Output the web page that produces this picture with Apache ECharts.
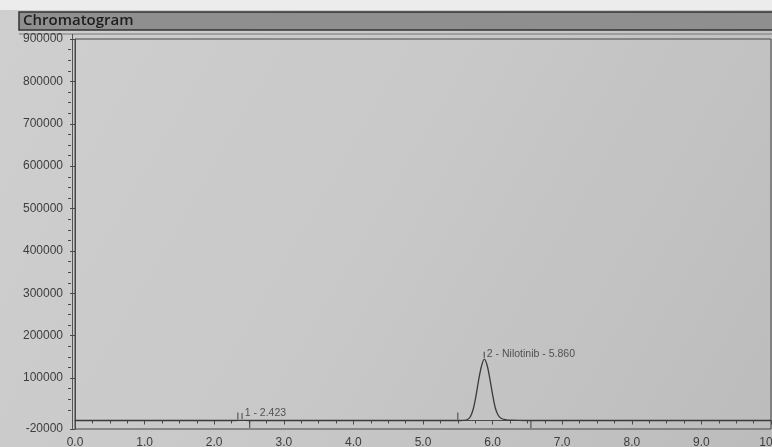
<!DOCTYPE html>
<html>
<head>
<meta charset="utf-8">
<script src="https://cdn.jsdelivr.net/npm/echarts@6/dist/echarts.min.js"></script>
<style>
  html, body { margin: 0; padding: 0; background: #c7c7c7; }
  #chart { width: 772px; height: 447px; }
</style>
</head>
<body>
<div id="chart"></div>
<script>
// retention time (min) and detector signal
const retTimes = [0, 1, 2, 2.3, 2.4, 2.5, 3, 4, 5, 5.5, 5.58, 5.64, 5.68, 5.72, 5.76, 5.8, 5.84, 5.88, 5.92, 5.96, 6.0, 6.04, 6.08, 6.12, 6.18, 6.27, 6.5, 7, 8, 9, 10]
const signal = [0, 0, 0, 0, 500, 0, 0, 0, 0, 0, 500, 2500, 9000, 26000, 57000, 96000, 128000, 145000, 131000, 99000, 61000, 29000, 12500, 5500, 2200, 700, 0, 0, 0, 0, 0]

// peak event marks: start (above baseline), end (below baseline), apex label ticks
const startTimes = [2.34, 5.5]
const endTimes = [2.51, 6.55]
const apexTimes = [2.4, 5.88]
const apexTickLevel = [10500, 155000]
const peakNames = ['1 - 2.423', '2 - Nilotinib - 5.860']

const yLabelValues = [-20000, 100000, 200000, 300000, 400000, 500000, 600000, 700000, 800000, 900000]
const yMinorValues = []
for (let v = 0; v < 900000; v += 25000) {
  if (v % 100000 !== 0) yMinorValues.push(v)
}

const chart = echarts.init(document.getElementById('chart'))
const font = "'Liberation Sans', Arial, sans-serif"
const ink = '#3a3a3a'

const option = {
  backgroundColor: {
    type: 'linear', x: 0, y: 0, x2: 1, y2: 1,
    colorStops: [
      { offset: 0, color: '#cfcfcf' },
      { offset: 0.5, color: '#c8c8c8' },
      { offset: 1, color: '#bcbcbc' }
    ]
  },
  animation: false,
  grid: {
    left: 75, right: 1, top: 39, bottom: 18,
    outerBoundsMode: 'none',
    containLabel: false,
    show: true, borderColor: '#474747', borderWidth: 1
  },
  xAxis: {
    type: 'value', min: 0, max: 10, interval: 1, offset: 3,
    axisLine: { show: true, lineStyle: { color: '#4a4a4a', width: 1 } },
    axisTick: { show: true, length: 4, lineStyle: { color: '#4a4a4a' } },
    minorTick: { show: true, splitNumber: 4, length: 3, lineStyle: { color: '#4a4a4a' } },
    splitLine: { show: false },
    axisLabel: {
      margin: 5, color: '#3d3d3d', fontSize: 12, fontFamily: font,
      formatter: v => v.toFixed(1)
    }
  },
  yAxis: [{
    type: 'value', min: -20000, max: 900000, offset: 4,
    axisLine: { show: true, lineStyle: { color: '#4a4a4a', width: 1 } },
    axisTick: { show: true, length: 5, customValues: yLabelValues, lineStyle: { color: '#4a4a4a' } },
    splitLine: { show: false },
    axisLabel: {
      customValues: yLabelValues, margin: 8, color: '#3d3d3d', fontSize: 12, fontFamily: font,
      formatter: v => String(v)
    }
  }, {
    type: 'value', min: -20000, max: 900000, offset: 4, position: 'left',
    axisLine: { show: false },
    axisTick: { show: true, length: 3, customValues: yMinorValues, lineStyle: { color: '#4a4a4a' } },
    splitLine: { show: false },
    axisLabel: { show: false }
  }],
  graphic: [
    { type: 'rect', shape: { x: 0, y: 0, width: 772, height: 10 }, style: { fill: '#ececec' } },
    {
      type: 'rect', shape: { x: 19, y: 12, width: 760, height: 18 },
      style: { fill: '#8f8f8f', stroke: '#333', lineWidth: 1.5 }
    },
    {
      type: 'text', left: 23, top: 13,
      style: { text: 'Chromatogram', fill: '#1e1e1e', font: "600 15px 'Open Sans', sans-serif" }
    },
    { type: 'line', shape: { x1: 19, y1: 34, x2: 772, y2: 34 }, style: { stroke: '#777', lineWidth: 1 } },
    { type: 'line', shape: { x1: 72.5, y1: 34, x2: 72.5, y2: 429 }, style: { stroke: '#555', lineWidth: 1 } }
  ],
  series: [{
    type: 'line',
    data: retTimes.map((t, i) => [t, signal[i]]),
    showSymbol: false,
    smooth: 0.3,
    lineStyle: { color: ink, width: 1.3 }
  }, {
    type: 'scatter',
    data: startTimes.map(t => [t, 10500]),
    symbol: 'rect', symbolSize: [1.2, 7],
    itemStyle: { color: ink }
  }, {
    type: 'scatter',
    data: endTimes.map(t => [t, -8000]),
    symbol: 'rect', symbolSize: [1.2, 8],
    itemStyle: { color: ink }
  }, {
    type: 'scatter',
    data: apexTimes.map((t, i) => ({
      value: [t, apexTickLevel[i]],
      name: peakNames[i],
      label: { offset: i === 0 ? [0, -3] : [0, -1] }
    })),
    symbol: 'rect', symbolSize: [1.2, 6],
    itemStyle: { color: ink },
    label: {
      show: true, position: 'right', distance: 2,
      formatter: p => p.name,
      color: '#333', fontSize: 10.5, fontFamily: font
    }
  }]
}

chart.setOption(option)
</script>
</body>
</html>
